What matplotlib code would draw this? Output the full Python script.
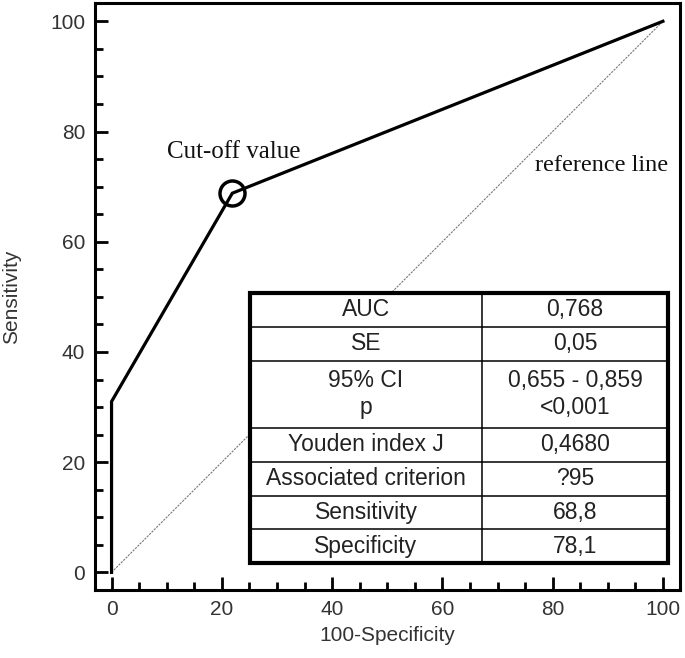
import matplotlib
matplotlib.use('Agg')
import matplotlib.pyplot as plt
from matplotlib.patches import Rectangle
from matplotlib.ticker import MultipleLocator

# ROC curve points (100-Specificity, Sensitivity)
roc_x = [0, 0, 21.9, 100]
roc_y = [0, 31, 68.8, 100]
cutoff_x = 21.9
cutoff_y = 68.8
ref_x = [0, 100]
ref_y = [0, 100]

# summary table
row_labels = ["AUC", "SE", "95% CI\np", "Youden index J",
              "Associated criterion", "Sensitivity", "Specificity"]
row_values = ["0,768", "0,05", "0,655 - 0,859\n<0,001", "0,4680",
              "?95", "68,8", "78,1"]
row_units = [1, 1, 2, 1, 1, 1, 1]

TXT = '#333333'

fig = plt.figure(figsize=(6.85, 6.58), dpi=100)
ax = fig.add_axes([0.1387, 0.1033, 0.854, 0.892])

ax.plot(ref_x, ref_y, color='#777777', lw=0.8, ls=(0, (2, 1)), zorder=1)
ax.plot(roc_x, roc_y, color='black', lw=2.3, zorder=3, solid_joinstyle='miter')
ax.plot([cutoff_x], [cutoff_y], 'o', ms=18, mfc='none', mec='black',
        mew=2.5, zorder=4)

ax.text(10.0, 76.2, 'Cut-off value', family='Liberation Serif', fontsize=18,
        va='center', ha='left', color='#111111')
ax.text(76.8, 73.9, 'reference line', family='Liberation Serif', fontsize=17.5,
        va='center', ha='left', color='#111111')

ax.set_xlim(-3.0, 103.1)
ax.set_ylim(-3.2, 103.3)
ax.xaxis.set_major_locator(MultipleLocator(20))
ax.xaxis.set_minor_locator(MultipleLocator(5))
ax.yaxis.set_major_locator(MultipleLocator(20))
ax.yaxis.set_minor_locator(MultipleLocator(5))
ax.tick_params(which='both', direction='in', width=2, colors='black',
               labelcolor=TXT, labelsize=15)
ax.tick_params(which='major', length=9.5)
ax.tick_params(which='minor', length=6)
ax.tick_params(axis='x', pad=7)
ax.tick_params(axis='y', pad=7)
for lab in ax.get_xticklabels() + ax.get_yticklabels():
    lab.set_family('Liberation Sans')
for s in ax.spines.values():
    s.set_linewidth(2.2)

ax.set_xlabel('100-Specificity', family='Liberation Sans', fontsize=15,
              color=TXT, labelpad=5)
ax.set_ylabel('Sensitivity', family='Liberation Sans', fontsize=15,
              color=TXT, labelpad=21)

# table drawn in axes fraction coordinates
t_left, t_mid, t_right = 0.265, 0.6615, 0.9795
t_top, t_bottom = 0.506, 0.046
unit = (t_top - t_bottom) / sum(row_units)
tr = ax.transAxes
ax.add_patch(Rectangle((t_left, t_bottom), t_right - t_left, t_top - t_bottom,
                       transform=tr, facecolor='white', edgecolor='none',
                       zorder=5))
y = t_top
for i, (lab, val, u) in enumerate(zip(row_labels, row_values, row_units)):
    h = unit * u
    yc = y - h / 2
    ax.text((t_left + t_mid) / 2, yc, lab, transform=tr, ha='center',
            va='center', family='Liberation Sans', fontsize=16.5, color='#222222',
            linespacing=1.2, zorder=7)
    ax.text((t_mid + t_right) / 2, yc, val, transform=tr, ha='center',
            va='center', family='Liberation Sans', fontsize=16.5, color='#222222',
            linespacing=1.2, zorder=7)
    y -= h
    if i < len(row_labels) - 1:
        ax.plot([t_left, t_right], [y, y], transform=tr, color='black',
                lw=1.1, zorder=6)
ax.plot([t_mid, t_mid], [t_bottom, t_top], transform=tr, color='black',
        lw=1.1, zorder=6)
ax.add_patch(Rectangle((t_left, t_bottom), t_right - t_left, t_top - t_bottom,
                       transform=tr, facecolor='none', edgecolor='black',
                       lw=3, zorder=8))

fig.savefig('out.png', dpi=100)
